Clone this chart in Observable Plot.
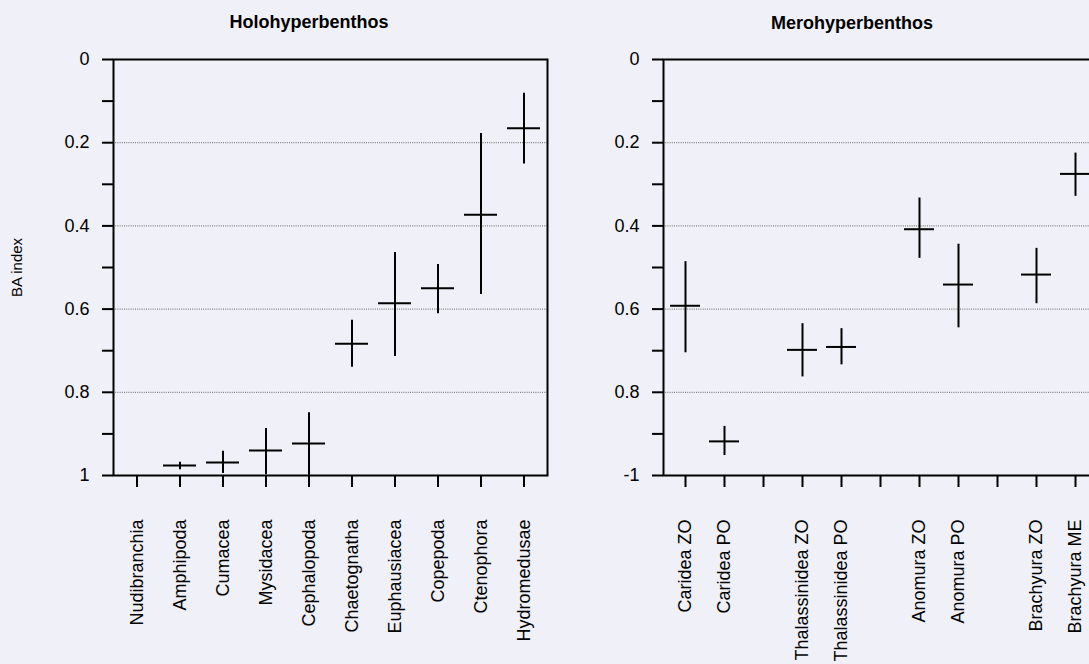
<!DOCTYPE html>
<html>
<head>
<meta charset="utf-8">
<script src="https://cdn.jsdelivr.net/npm/d3@7"></script>
<script src="https://cdn.jsdelivr.net/npm/@observablehq/plot@0.6"></script>
<style>
  html, body { margin: 0; padding: 0; overflow: hidden; background: #eff0f8; }
  #wrap { position: relative; width: 1089px; height: 664px; overflow: hidden; background: #eff0f8;
          font-family: "Liberation Sans", Arial, sans-serif; color: #000; }
  .panel { position: absolute; top: 0; width: 560px; height: 664px; }
  .panel svg { max-width: none !important; }
  .title { position: absolute; font-weight: bold; font-size: 18px; text-align: center; width: 300px; }
</style>
</head>
<body>
<div id="wrap">
  <div class="panel" id="p1" style="left:0px"></div>
  <div class="panel" id="p2" style="left:550px"></div>
  <div class="title" id="t1">Holohyperbenthos</div>
  <div class="title" id="t2">Merohyperbenthos</div>
</div>
<script>
// ---- Data ----
const holoCategories = ["Nudibranchia","Amphipoda","Cumacea","Mysidacea","Cephalopoda","Chaetognatha","Euphausiacea","Copepoda","Ctenophora","Hydromedusae"];
const holoTaxa = ["Amphipoda","Cumacea","Mysidacea","Cephalopoda","Chaetognatha","Euphausiacea","Copepoda","Ctenophora","Hydromedusae"];
const holoMean = [0.976, 0.969, 0.940, 0.923, 0.683, 0.586, 0.550, 0.373, 0.165];
const holoLow  = [0.968, 0.942, 0.887, 0.849, 0.627, 0.464, 0.493, 0.178, 0.081];
const holoHigh = [0.986, 0.995, 0.998, 1.000, 0.740, 0.714, 0.611, 0.565, 0.251];
const holoTickLabels = ["0","0.2","0.4","0.6","0.8","1"];

const meroCategories = ["Caridea ZO","Caridea PO","_gap1","Thalassinidea ZO","Thalassinidea PO","_gap2","Anomura ZO","Anomura PO","_gap3","Brachyura ZO","Brachyura ME"];
const meroTaxa = ["Caridea ZO","Caridea PO","Thalassinidea ZO","Thalassinidea PO","Anomura ZO","Anomura PO","Brachyura ZO","Brachyura ME"];
const meroMean = [0.592, 0.918, 0.698, 0.691, 0.408, 0.541, 0.517, 0.275];
const meroLow  = [0.486, 0.882, 0.635, 0.647, 0.333, 0.444, 0.454, 0.225];
const meroHigh = [0.705, 0.952, 0.763, 0.734, 0.478, 0.645, 0.587, 0.329];
const meroTickLabels = ["0","0.2","0.4","0.6","0.8","-1"];

const majorTicks = [0, 0.2, 0.4, 0.6, 0.8, 1];
const minorTicks = [0.1, 0.3, 0.5, 0.7, 0.9];
const gridTicks = [0.2, 0.4, 0.6, 0.8];
const yAxisTitle = "BA index";

const FONT = '"Liberation Sans", Arial, sans-serif';

function panel(categories, taxa, mean, low, high, tickLabels, pad, yTitle) {
  const data = taxa.map((t, i) => ({cat: t, mean: mean[i], lo: low[i], hi: high[i]}));
  const marks = [
    Plot.gridY(gridTicks, {stroke: "#666", strokeOpacity: 1, strokeWidth: 1, strokeDasharray: "1,1.2"}),
    Plot.axisY(majorTicks, {anchor: "left", tickSize: 11, tickPadding: 13, fontSize: 18, strokeWidth: 2,
      tickFormat: d => tickLabels[majorTicks.indexOf(d)], label: null}),
    Plot.axisY(minorTicks, {anchor: "left", tickSize: 11, tickFormat: () => "", strokeWidth: 2, label: null}),
    Plot.axisX({anchor: "bottom", tickSize: 12, tickPadding: 32, tickRotate: -90, fontSize: 18, strokeWidth: 2,
      tickFormat: d => d.startsWith("_") ? "" : d, label: null}),
    Plot.frame({stroke: "#000", strokeWidth: 2}),
    Plot.ruleX(data, {x: "cat", y1: "lo", y2: "hi", stroke: "#000", strokeWidth: 2}),
    Plot.tickY(data, {x: "cat", y: "mean", stroke: "#000", strokeWidth: 2})
  ];
  if (yTitle) marks.push(Plot.text([yTitle], {frameAnchor: "left", textAnchor: "middle", rotate: -90, dx: -96, fontSize: 15, fill: "#000"}));
  return Plot.plot({
    width: 560,
    height: 664,
    marginLeft: 113,
    marginRight: 13,
    marginTop: 59,
    marginBottom: 189,
    style: {background: "transparent", fontFamily: FONT, color: "#000", overflow: "visible", maxWidth: "none"},
    x: {domain: categories, paddingInner: pad, paddingOuter: pad / 2, axis: null},
    y: {domain: [0, 1], reverse: true, axis: null},
    marks
  });
}

document.getElementById("p1").appendChild(panel(holoCategories, holoTaxa, holoMean, holoLow, holoHigh, holoTickLabels, 0.24, yAxisTitle));
document.getElementById("p2").appendChild(panel(meroCategories, meroTaxa, meroMean, meroLow, meroHigh, meroTickLabels, 0.22, null));

const t1 = document.getElementById("t1"); t1.style.left = (309 - 150) + "px"; t1.style.top = "12px";
const t2 = document.getElementById("t2"); t2.style.left = (852 - 150) + "px"; t2.style.top = "13px";
</script>
</body>
</html>
